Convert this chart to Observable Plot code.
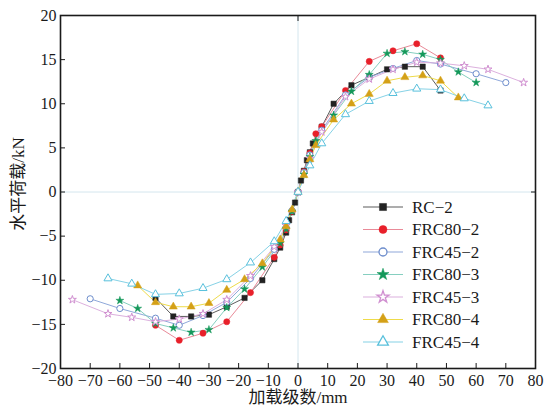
<!DOCTYPE html>
<html><head><meta charset="utf-8">
<script src="https://cdn.jsdelivr.net/npm/d3@7"></script>
<script src="https://cdn.jsdelivr.net/npm/@observablehq/plot@0.6"></script>
<style>body{margin:0;background:#fff;} #chart{width:549px;height:414px;}</style>
</head><body><div id="chart"></div>
<script>
// ---- data ----
const seriesNames = ["RC−2", "FRC80−2", "FRC45−2", "FRC80−3", "FRC45−3", "FRC80−4", "FRC45−4"];

const rc2X = [-48,-42,-36,-30,-24,-18,-12,-8,-6,-4,-3,-2,-1,0,1,2,3,4,5,8,12,18,24,30,36,42,48];
const rc2Y = [-12.0,-14.1,-14.1,-13.9,-13.0,-12.0,-10.0,-7.6,-6.3,-4.6,-3.2,-2.3,-1.2,0,1.3,2.4,3.6,4.5,5.5,7.4,10.0,12.1,13.0,13.9,14.2,14.2,11.5];

const frc80_2X = [-48,-40,-32,-24,-16,-8,-6,-4,-2,0,2,4,6,8,16,24,32,40,48];
const frc80_2Y = [-15.1,-16.8,-16.0,-14.7,-11.4,-7.4,-6.0,-4.3,-2.2,0,2.3,4.4,6.6,7.4,11.5,14.8,16.0,16.8,15.2];

const frc45_2X = [-70,-60,-48,-40,-32,-24,-16,-8,-4,-2,0,2,4,8,16,24,32,40,48,60,70];
const frc45_2Y = [-12.1,-13.2,-14.3,-15.1,-14.0,-12.5,-9.8,-6.5,-4.0,-2.1,0,2.2,4.2,7.0,11.0,13.0,14.0,14.9,14.5,13.4,12.4];

const frc80_3X = [-60,-54,-48,-42,-36,-30,-24,-18,-12,-6,-4,-2,0,2,4,6,12,18,24,30,36,42,48,54,60];
const frc80_3Y = [-12.3,-13.2,-14.9,-15.4,-15.9,-15.6,-13.1,-11.0,-8.5,-5.8,-4.2,-2.2,0,2.0,4.0,5.8,8.7,11.4,13.3,15.7,15.9,15.6,15.0,13.6,12.4];

const frc45_3X = [-76,-64,-56,-48,-40,-32,-24,-16,-8,-4,0,4,8,16,24,32,40,48,56,64,76];
const frc45_3Y = [-12.2,-13.8,-14.2,-14.7,-14.4,-13.8,-12.2,-9.5,-6.2,-3.8,0,3.8,6.8,10.8,12.8,13.9,14.7,14.6,14.3,13.9,12.4];

const frc80_4X = [-54,-48,-42,-36,-30,-24,-18,-12,-6,-4,-2,0,2,4,6,12,18,24,30,36,42,48,54];
const frc80_4Y = [-10.6,-12.5,-13.0,-13.0,-12.6,-11.1,-9.9,-8.1,-5.4,-3.9,-2.0,0,1.9,3.7,5.3,8.2,10.0,11.1,12.6,13.0,13.2,12.6,10.7];

const frc45_4X = [-64,-56,-48,-40,-32,-24,-16,-8,-4,0,4,8,16,24,32,40,48,56,64];
const frc45_4Y = [-9.8,-10.4,-11.6,-11.5,-10.9,-9.9,-8.0,-5.6,-3.3,0,3.0,5.5,8.8,10.3,11.2,11.7,11.6,10.6,9.8];

const xTicks = [-80,-70,-60,-50,-40,-30,-20,-10,0,10,20,30,40,50,60,70,80];
const yTicks = [-20,-15,-10,-5,0,5,10,15,20];

// ---- styles ----
const styles = [
  {line:"#5c5c5c", mark:"#222222", symbol:"square",   fill:true},
  {line:"#e98a98", mark:"#e8202a", symbol:"circle",   fill:true},
  {line:"#8fa8da", mark:"#6d8dcc", symbol:"circle",   fill:false},
  {line:"#86cfc0", mark:"#14985a", symbol:"star",     fill:true},
  {line:"#dcb0de", mark:"#d08fd0", symbol:"star",     fill:false},
  {line:"#eedb4a", mark:"#d4a017", symbol:"triangle", fill:true},
  {line:"#86d2e6", mark:"#58c0dc", symbol:"triangle", fill:false}
];
const rSize = {square: 3.0, circle: 3.1, star: 2.5, triangle: 3.0};

const allX = [rc2X, frc80_2X, frc45_2X, frc80_3X, frc45_3X, frc80_4X, frc45_4X];
const allY = [rc2Y, frc80_2Y, frc45_2Y, frc80_3Y, frc45_3Y, frc80_4Y, frc45_4Y];

const serif = "'Liberation Serif','Noto Sans CJK SC',serif";
const minus = d => d < 0 ? "\u2212" + (-d) : String(d);

const marks = [
  Plot.ruleX([0], {stroke:"#d4e6ee", strokeWidth:1}),
  Plot.ruleY([0], {stroke:"#d4e6ee", strokeWidth:1})
];
allX.forEach((xs, i) => {
  const rows = xs.map((x, j) => ({x, y: allY[i][j], s: seriesNames[i]}));
  const st = styles[i];
  marks.push(Plot.line(rows, {x:"x", y:"y", stroke: st.line, strokeWidth: 1}));
});
allX.forEach((xs, i) => {
  const rows = xs.map((x, j) => ({x, y: allY[i][j], s: seriesNames[i]}));
  const st = styles[i];
  marks.push(Plot.dot(rows, {x:"x", y:"y", symbol: st.symbol, r: rSize[st.symbol],
    fill: st.fill ? st.mark : "white", stroke: st.mark, strokeWidth: st.fill ? 0.5 : 1}));
});

marks.push(
  Plot.frame({stroke:"#1a1a1a", strokeWidth:1.6}),
  Plot.axisX(xTicks, {anchor:"bottom", tickSize:-5, tickPadding:11, tickFormat: minus, fontSize:16, fontFamily: serif, label:null, stroke:"#1a1a1a", fill:"#1a1a1a"}),
  Plot.axisY(yTicks, {anchor:"left", tickSize:-5, tickPadding:9, tickFormat: minus, fontSize:16, fontFamily: serif, label:null, stroke:"#1a1a1a", fill:"#1a1a1a"}),
  Plot.axisX([0], {anchor:"top", tickSize:-5, tickFormat: () => "", label:null, stroke:"#1a1a1a"}),
  Plot.axisY([0], {anchor:"right", tickSize:-5, tickFormat: () => "", label:null, stroke:"#1a1a1a"}),
  Plot.text(["加载级数/mm"], {frameAnchor:"bottom", textAnchor:"middle", dy:34, fontSize:17, fontFamily: serif, fill:"#1a1a1a"}),
  Plot.text(["水平荷载/kN"], {frameAnchor:"left", textAnchor:"middle", rotate:-90, dx:-42, dy:-8, fontSize:17, fontFamily: serif, fill:"#1a1a1a"})
);

const chart = Plot.plot({
  width: 549, height: 414,
  marginLeft: 60, marginRight: 14, marginTop: 15, marginBottom: 46,
  x: {domain:[-80,80]},
  y: {domain:[-20,20]},
  style: {background:"white", fontFamily: serif},
  marks
});
document.getElementById("chart").appendChild(chart);

// ---- legend (inside plot, lower right) ----
const svg = d3.select(chart);
const lg = svg.append("g").attr("transform", "translate(363,207)");
const symMap = {square: d3.symbolSquare, circle: d3.symbolCircle, star: d3.symbolStar, triangle: d3.symbolTriangle};
seriesNames.forEach((name, i) => {
  const st = styles[i];
  const g = lg.append("g").attr("transform", `translate(0,${i * 22.5})`);
  g.append("line").attr("x1", 0).attr("x2", 40).attr("y1", 0).attr("y2", 0)
    .attr("stroke", st.line).attr("stroke-width", 1.2);
  g.append("path").attr("transform", "translate(20,0)")
    .attr("d", d3.symbol(symMap[st.symbol], st.symbol === "star" ? 45 : 50)())
    .attr("fill", st.fill ? st.mark : "white").attr("stroke", st.mark).attr("stroke-width", st.fill ? 0.5 : 1.3);
  g.append("text").attr("x", 49).attr("y", 0).attr("dy", "0.35em").attr("text-anchor", "start")
    .attr("font-family", serif).attr("font-size", 17).attr("fill", "#1a1a1a").text(name);
});
</script>
</body></html>
